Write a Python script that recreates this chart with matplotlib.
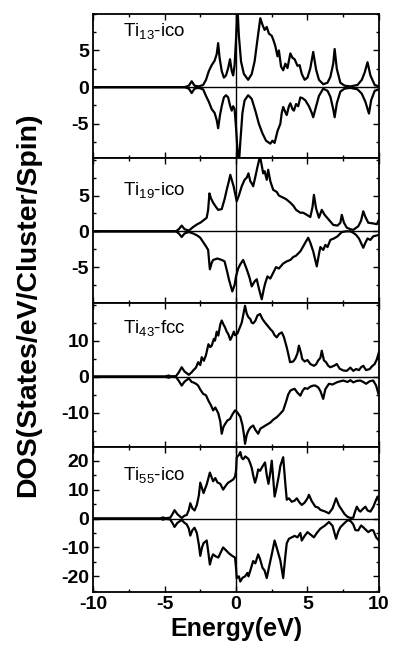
import matplotlib
matplotlib.use("Agg")
import matplotlib.pyplot as plt
from matplotlib.ticker import MultipleLocator
import numpy as np

plt.rcParams['font.family'] = ['Liberation Sans', 'DejaVu Sans']
plt.rcParams['mathtext.fontset'] = 'custom'
plt.rcParams['mathtext.rm'] = 'Liberation Sans'
plt.rcParams['mathtext.it'] = 'Liberation Sans'
plt.rcParams['mathtext.bf'] = 'Liberation Sans:bold'
plt.rcParams['axes.unicode_minus'] = False

# DOS curves: (energy eV, states)
ti13_up = [(-10, 0), (-3.6, 0), (-3.3, 0.2), (-3.1, 0.8), (-2.9, 0.2), (-2.6, 0.1), (-2.3, 0.3), (-2.1, 1.0),
           (-1.9, 2.2), (-1.7, 3.0), (-1.5, 3.6), (-1.35, 4.5), (-1.25, 6.0), (-1.15, 4.0), (-1.0, 2.2),
           (-0.85, 1.3), (-0.7, 1.6), (-0.55, 2.6), (-0.42, 3.8), (-0.3, 2.2), (-0.2, 1.6), (-0.1, 3.0),
           (0.0, 6.5), (0.1, 11), (0.2, 7), (0.35, 3.5), (0.55, 1.8), (0.85, 1.0), (1.1, 1.8), (1.3, 3.5),
           (1.5, 6.5), (1.7, 9.4), (1.85, 8.5), (2.0, 7.8), (2.15, 8.2), (2.3, 7.3), (2.5, 7.0), (2.6, 6.5),
           (2.75, 5.6), (2.9, 4.2), (3.0, 5.0), (3.15, 2.8), (3.3, 2.3), (3.45, 3.2), (3.6, 2.6), (3.8, 4.6),
           (3.95, 4.0), (4.1, 3.8), (4.3, 2.9), (4.45, 3.0), (4.6, 1.8), (4.8, 1.0), (5.0, 1.3), (5.2, 2.6),
           (5.4, 4.8), (5.6, 2.4), (5.8, 1.0), (6.1, 0.4), (6.4, 0.6), (6.6, 1.4), (6.8, 3.2), (6.9, 5.2),
           (7.05, 2.5), (7.3, 0.6), (7.6, 0.2), (8.0, 0.1), (8.5, 0.3), (8.8, 1.0), (9.0, 2.0), (9.2, 3.4),
           (9.4, 1.6), (9.7, 0.3), (10, 0.1)]
ti13_dn = [(-10, 0), (-3.6, 0), (-3.3, -0.2), (-3.1, -0.8), (-2.9, -0.2), (-2.6, -0.1), (-2.3, -0.3), (-2.1, -1.2),
           (-1.9, -2.0), (-1.7, -3.0), (-1.5, -3.5), (-1.35, -4.5), (-1.25, -5.6), (-1.12, -3.8), (-1.0, -2.6),
           (-0.85, -1.4), (-0.7, -1.1), (-0.55, -1.4), (-0.42, -2.5), (-0.3, -3.2), (-0.2, -2.6), (-0.1, -3.0),
           (0.0, -5.5), (0.1, -8.5), (0.2, -10.5), (0.3, -7.5), (0.45, -3.5), (0.6, -1.8), (0.85, -1.1),
           (1.1, -1.6), (1.35, -3.2), (1.6, -5.0), (1.85, -6.3), (2.1, -7.3), (2.4, -7.7), (2.55, -7.3),
           (2.7, -7.6), (2.9, -6.0), (3.1, -5.0), (3.2, -3.5), (3.3, -2.7), (3.45, -3.4), (3.55, -3.8),
           (3.7, -2.6), (3.8, -2.2), (3.95, -3.0), (4.05, -3.2), (4.2, -2.3), (4.35, -2.6), (4.5, -1.4),
           (4.65, -1.5), (4.85, -1.8), (5.1, -2.6), (5.3, -3.5), (5.4, -4.1), (5.55, -3.0), (5.8, -1.2),
           (6.1, -0.2), (6.4, -0.5), (6.6, -1.3), (6.8, -3.0), (6.9, -4.1), (7.05, -2.2), (7.3, -0.6),
           (7.6, -0.2), (8.0, -0.1), (8.5, -0.3), (8.8, -0.9), (9.05, -2.0), (9.3, -3.6), (9.45, -1.8),
           (9.7, -0.5), (10, -0.3)]

ti19_up = [(-10, 0), (-4.2, 0), (-4.0, 0.3), (-3.8, 0.8), (-3.6, 0.3), (-3.3, 0.1), (-3.0, 0.6), (-2.7, 1.0),
           (-2.5, 1.2), (-2.3, 1.5), (-2.05, 1.9), (-1.95, 3.0), (-1.86, 5.3), (-1.75, 4.6), (-1.6, 4.0),
           (-1.4, 3.4), (-1.25, 3.0), (-1.0, 3.1), (-0.8, 4.5), (-0.65, 5.8), (-0.5, 7.0), (-0.4, 7.9),
           (-0.3, 7.2), (-0.17, 6.3), (0.05, 4.2), (0.2, 5.0), (0.4, 6.3), (0.6, 7.2), (0.75, 7.5), (0.87, 8.1),
           (1.0, 7.0), (1.1, 6.7), (1.2, 6.3), (1.35, 7.6), (1.5, 9.0), (1.68, 10.5), (1.8, 9.2), (1.9, 8.1),
           (2.0, 8.4), (2.15, 7.2), (2.25, 8.6), (2.4, 7.0), (2.6, 5.8), (2.85, 5.5), (3.0, 5.0), (3.3, 4.7),
           (3.5, 4.5), (3.8, 4.0), (4.0, 3.6), (4.2, 3.0), (4.5, 2.6), (4.7, 2.6), (4.95, 2.3), (5.2, 2.0),
           (5.35, 3.4), (5.45, 5.1), (5.6, 3.2), (5.8, 1.9), (6.0, 3.0), (6.2, 2.3), (6.5, 1.6), (6.8, 0.9),
           (7.1, 0.8), (7.3, 1.2), (7.4, 2.3), (7.55, 1.2), (7.75, 0.5), (8.0, 0.3), (8.2, 0.2), (8.55, 0.7),
           (8.75, 1.5), (8.9, 2.8), (9.05, 2.0), (9.25, 1.2), (9.6, 1.1), (9.85, 1.0), (10, 1.6)]
ti19_dn = [(-10, 0), (-4.2, 0), (-4.0, -0.3), (-3.8, -0.8), (-3.6, -0.3), (-3.3, -0.1), (-3.0, -0.3),
           (-2.7, -0.6), (-2.5, -0.9), (-2.3, -1.5), (-2.1, -2.1), (-1.95, -2.6), (-1.83, -5.3), (-1.7, -4.4),
           (-1.6, -4.0), (-1.3, -3.8), (-1.0, -4.0), (-0.8, -4.2), (-0.6, -5.8), (-0.5, -6.7), (-0.26, -8.4),
           (-0.1, -7.5), (0.0, -6.3), (0.15, -5.2), (0.3, -4.6), (0.5, -4.0), (0.75, -5.3), (0.95, -6.5),
           (1.1, -7.7), (1.3, -7.0), (1.45, -6.7), (1.6, -8.0), (1.8, -9.5), (1.95, -8.0), (2.05, -7.2),
           (2.2, -6.3), (2.4, -6.6), (2.6, -5.8), (2.8, -5.0), (3.0, -5.2), (3.3, -4.5), (3.55, -4.2),
           (3.8, -4.0), (4.0, -3.6), (4.2, -3.4), (4.5, -2.8), (4.7, -2.1), (4.9, -1.4), (5.05, -0.9),
           (5.2, -1.6), (5.4, -2.8), (5.65, -4.9), (5.8, -3.2), (5.9, -2.2), (6.1, -2.6), (6.25, -1.9),
           (6.4, -2.2), (6.6, -1.2), (6.85, -1.0), (7.1, -0.7), (7.4, -0.1), (7.7, 0.0), (8.0, 0.0),
           (8.2, -0.2), (8.4, -0.5), (8.6, -1.0), (8.9, -2.3), (9.05, -1.6), (9.2, -1.0), (9.4, -1.2),
           (9.6, -0.7), (9.8, -0.6), (10, -0.5)]

ti43_up = [(-10, 0), (-5.0, 0), (-4.8, 0.2), (-4.7, 0.3), (-4.6, 0.1), (-4.2, 0.1), (-4.0, 1.2), (-3.8, 2.6),
           (-3.6, 1.4), (-3.3, 0.5), (-3.1, 1.2), (-3.0, 1.7), (-2.8, 2.5), (-2.65, 4.0), (-2.5, 3.2),
           (-2.4, 5.4), (-2.25, 4.4), (-2.1, 6.0), (-1.93, 9.0), (-1.8, 8.2), (-1.7, 8.6), (-1.55, 10.5),
           (-1.47, 10.0), (-1.35, 12.5), (-1.24, 11.4), (-1.1, 14.5), (-1.0, 15.6), (-0.88, 14.5),
           (-0.77, 13.7), (-0.65, 12.5), (-0.54, 11.8), (-0.4, 10.2), (-0.3, 11.0), (-0.15, 12.5),
           (-0.07, 11.5), (0.1, 12.0), (0.25, 13.5), (0.4, 15.0), (0.5, 17.0), (0.63, 19.7), (0.75, 17.5),
           (0.87, 16.5), (1.0, 16.0), (1.1, 15.0), (1.2, 14.8), (1.35, 15.5), (1.5, 17.0), (1.68, 17.4),
           (1.85, 16.0), (2.03, 15.0), (2.2, 14.2), (2.4, 13.2), (2.55, 12.6), (2.7, 11.5), (2.85, 10.9),
           (3.0, 11.8), (3.2, 12.3), (3.35, 11.0), (3.55, 8.1), (3.7, 5.5), (3.78, 4.0), (4.0, 4.2),
           (4.15, 5.0), (4.3, 6.5), (4.4, 8.6), (4.55, 6.5), (4.63, 4.9), (4.8, 4.2), (5.0, 4.6), (5.2, 3.5),
           (5.45, 3.0), (5.6, 3.4), (5.75, 4.5), (5.9, 5.2), (6.0, 7.2), (6.15, 4.5), (6.3, 4.0), (6.45, 3.0),
           (6.6, 2.6), (6.85, 3.0), (7.05, 3.5), (7.25, 2.2), (7.5, 1.7), (7.75, 1.6), (8.0, 2.5), (8.2, 1.6),
           (8.4, 2.1), (8.6, 1.8), (8.75, 2.6), (8.9, 3.0), (9.1, 1.8), (9.35, 2.1), (9.5, 2.8), (9.7, 3.5),
           (9.85, 4.8), (10, 6.8)]
ti43_dn = [(-10, 0), (-5.0, 0), (-4.8, -0.2), (-4.7, -0.3), (-4.6, -0.1), (-4.2, -0.1), (-4.0, -1.2),
           (-3.8, -2.5), (-3.6, -1.4), (-3.3, -0.5), (-3.1, -1.5), (-3.0, -1.6), (-2.8, -2.0), (-2.65, -2.5),
           (-2.5, -3.6), (-2.3, -4.8), (-2.1, -5.2), (-1.93, -6.7), (-1.75, -8.0), (-1.6, -9.4),
           (-1.45, -8.6), (-1.24, -10.2), (-1.1, -12.5), (-1.0, -15.9), (-0.88, -14.0), (-0.75, -13.1),
           (-0.6, -12.2), (-0.42, -11.8), (-0.25, -10.5), (-0.07, -9.4), (0.1, -10.0), (0.3, -11.2),
           (0.45, -13.5), (0.55, -16.0), (0.63, -18.7), (0.75, -16.2), (0.87, -15.0), (1.0, -14.2),
           (1.2, -13.6), (1.35, -14.8), (1.55, -15.9), (1.7, -14.5), (1.9, -14.0), (2.1, -13.5), (2.4, -12.8),
           (2.6, -12.0), (2.85, -11.3), (3.05, -10.5), (3.3, -9.4), (3.5, -7.0), (3.65, -5.0), (3.8, -3.9),
           (3.95, -3.6), (4.1, -3.4), (4.3, -4.5), (4.5, -5.3), (4.65, -4.0), (4.8, -3.2), (5.0, -3.4),
           (5.2, -2.8), (5.4, -2.5), (5.55, -2.5), (5.75, -3.0), (5.9, -4.0), (6.1, -6.2), (6.25, -3.5),
           (6.5, -2.0), (6.75, -2.2), (7.05, -1.6), (7.3, -1.3), (7.5, -1.1), (7.8, -1.5), (8.0, -1.0),
           (8.2, -1.6), (8.45, -1.2), (8.7, -1.1), (8.9, -1.5), (9.1, -2.0), (9.35, -1.3), (9.6, -1.1),
           (9.8, -2.5), (10, -5.3)]

ti55_up = [(-10, 0), (-5.3, 0), (-5.1, 0.4), (-4.95, 0.1), (-4.6, 0.3), (-4.45, 1.5), (-4.3, 2.9), (-4.1, 1.5),
           (-3.8, 0.2), (-3.6, 1.0), (-3.45, 1.2), (-3.3, 3.0), (-3.2, 5.3), (-3.05, 3.5), (-2.9, 2.8),
           (-2.74, 4.7), (-2.6, 8.0), (-2.5, 12.4), (-2.38, 10.5), (-2.27, 8.8), (-2.15, 10.5), (-2.05, 11.8),
           (-1.93, 14.0), (-1.83, 15.9), (-1.7, 14.2), (-1.6, 12.9), (-1.45, 14.0), (-1.3, 12.5), (-1.1, 12.0),
           (-0.9, 10.0), (-0.7, 11.5), (-0.55, 12.4), (-0.35, 13.0), (-0.2, 13.5), (-0.07, 14.5), (0.0, 16.5),
           (0.05, 21.2), (0.2, 22.0), (0.3, 23.0), (0.4, 21.0), (0.5, 20.5), (0.65, 21.5), (0.87, 20.6),
           (1.0, 19.0), (1.1, 17.5), (1.2, 15.0), (1.33, 12.4), (1.45, 14.5), (1.55, 17.0), (1.68, 16.5),
           (1.85, 18.0), (2.03, 19.4), (2.15, 15.0), (2.27, 12.0), (2.4, 16.0), (2.5, 20.0), (2.6, 14.0),
           (2.7, 7.6), (2.85, 11.0), (3.0, 15.0), (3.1, 18.2), (3.3, 21.2), (3.45, 12.0), (3.55, 6.5),
           (3.7, 7.0), (3.9, 5.8), (4.1, 6.2), (4.25, 7.0), (4.45, 5.5), (4.6, 4.7), (4.8, 5.5), (5.0, 7.0),
           (5.1, 8.2), (5.3, 6.0), (5.55, 4.1), (5.75, 3.8), (5.9, 3.0), (6.2, 2.5), (6.5, 1.8), (6.75, 3.5),
           (7.0, 7.0), (7.2, 4.5), (7.4, 3.0), (7.6, 1.5), (7.8, 0.6), (8.0, 0.2), (8.2, 0.3), (8.3, 2.0),
           (8.45, 4.1), (8.6, 2.8), (8.7, 2.4), (8.85, 3.2), (9.05, 4.1), (9.2, 2.8), (9.4, 2.4), (9.6, 4.0),
           (9.8, 6.5), (9.9, 7.6), (10, 6.0)]
ti55_dn = [(-10, 0), (-5.3, 0), (-5.1, -0.4), (-4.95, -0.1), (-4.6, -0.3), (-4.45, -1.5), (-4.3, -2.9),
           (-4.1, -1.5), (-3.8, -0.5), (-3.6, -1.5), (-3.45, -2.0), (-3.3, -3.5), (-3.2, -5.9), (-3.05, -4.0),
           (-2.9, -3.2), (-2.74, -5.0), (-2.6, -9.0), (-2.5, -12.9), (-2.38, -10.0), (-2.27, -8.5),
           (-2.05, -7.6), (-1.93, -12.0), (-1.83, -15.9), (-1.7, -13.5), (-1.6, -12.4), (-1.45, -13.0),
           (-1.24, -13.5), (-1.05, -11.5), (-0.9, -10.0), (-0.7, -11.0), (-0.5, -12.0), (-0.3, -12.8),
           (-0.07, -13.5), (0.0, -17.0), (0.05, -20.6), (0.2, -20.0), (0.3, -21.8), (0.45, -20.5),
           (0.63, -20.0), (0.8, -18.8), (0.87, -20.0), (1.0, -18.0), (1.2, -14.7), (1.35, -15.5),
           (1.55, -12.4), (1.68, -14.0), (1.85, -17.0), (2.0, -18.0), (2.15, -20.6), (2.3, -17.0),
           (2.5, -12.4), (2.7, -7.6), (2.9, -11.0), (3.1, -14.5), (3.3, -20.6), (3.45, -13.0), (3.55, -8.5),
           (3.7, -7.0), (3.9, -6.5), (4.1, -6.0), (4.3, -6.5), (4.5, -5.0), (4.6, -7.6), (4.8, -6.0),
           (5.0, -4.7), (5.2, -5.5), (5.45, -6.5), (5.65, -5.0), (5.9, -3.5), (6.2, -2.5), (6.5, -1.2),
           (6.75, -2.5), (7.0, -7.0), (7.15, -4.5), (7.3, -3.0), (7.6, -1.5), (7.8, -0.6), (8.0, -0.8),
           (8.2, -2.0), (8.35, -4.0), (8.55, -4.1), (8.75, -2.4), (8.9, -3.0), (9.1, -4.0), (9.25, -4.7),
           (9.45, -4.0), (9.6, -4.1), (9.8, -6.5), (10, -7.6)]

labels = [r'Ti$_{13}$-ico', r'Ti$_{19}$-ico', r'Ti$_{43}$-fcc', r'Ti$_{55}$-ico']
ylims = [(-9.7, 10), (-10, 10.2), (-19.7, 20.5), (-25.4, 24.6)]
yticks = [[-5, 0, 5], [-5, 0, 5], [-10, 0, 10], [-20, -10, 0, 10, 20]]
yminor = [2.5, 2.5, 5, 5]
label_y = [0.95, 0.85, 0.895, 0.88]
curves = [(ti13_up, ti13_dn), (ti19_up, ti19_dn), (ti43_up, ti43_dn), (ti55_up, ti55_dn)]

fig, axes = plt.subplots(4, 1, figsize=(3.96, 6.56), dpi=100, sharex=True)
fig.subplots_adjust(left=0.235, right=0.957, top=0.979, bottom=0.0976, hspace=0)

for i, ax in enumerate(axes):
    for c in curves[i]:
        arr = np.array(c)
        ax.plot(arr[:, 0], arr[:, 1], color='black', lw=1.6)
    ax.axhline(0, color='black', lw=1.0)
    ax.axvline(0, color='black', lw=1.0)
    ax.set_xlim(-10, 10)
    ax.set_ylim(*ylims[i])
    ax.set_yticks(yticks[i])
    ax.yaxis.set_minor_locator(MultipleLocator(yminor[i]))
    ax.xaxis.set_major_locator(MultipleLocator(5))
    ax.xaxis.set_minor_locator(MultipleLocator(2.5))
    ax.tick_params(which='both', direction='in', top=True, right=True, width=1.0)
    ax.tick_params(which='major', length=4, labelsize=14, pad=3)
    ax.tick_params(which='minor', length=2)
    for lab in ax.get_yticklabels() + ax.get_xticklabels():
        lab.set_fontweight('bold')
    for sp in ax.spines.values():
        sp.set_linewidth(1.3)
    ax.text(0.105, label_y[i], labels[i], transform=ax.transAxes, va='top', ha='left', fontsize=13.5)

axes[-1].set_xticks([-10, -5, 0, 5, 10])
axes[-1].set_xticklabels(['-10', '-5', '0', '5', '10'], fontweight='bold')
axes[-1].set_xlabel('Energy(eV)', fontsize=18, fontweight='bold', labelpad=3)
fig.text(0.072, 1 - 305 / 656, 'DOS(States/eV/Cluster/Spin)', rotation=90, ha='center', va='center',
         fontsize=20.5, fontweight='bold')

plt.savefig('out.png', dpi=100)
